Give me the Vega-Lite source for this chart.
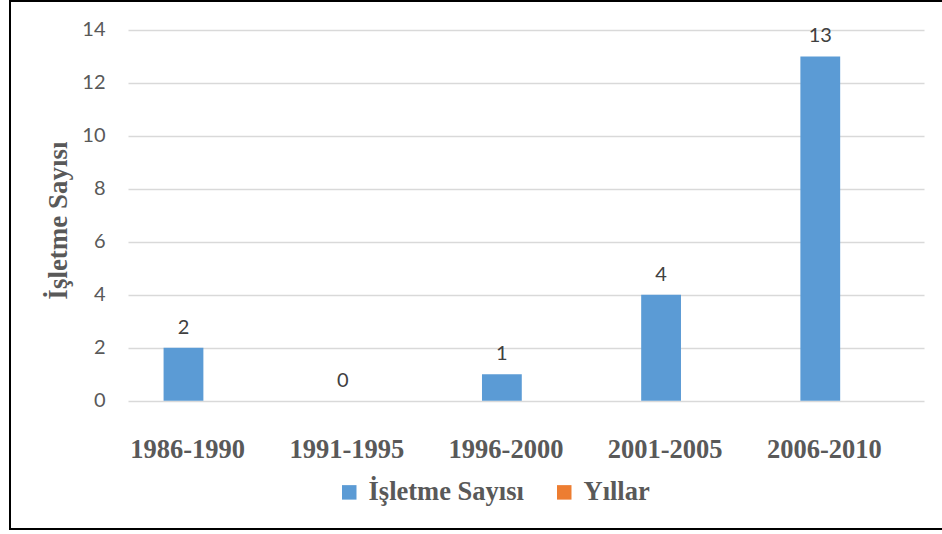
{
  "$schema": "https://vega.github.io/schema/vega-lite/v6.json",
  "width": 934,
  "height": 528,
  "autosize": {"type": "none"},
  "padding": {"left": 10, "top": 1, "right": -2, "bottom": 5},
  "background": "white",
  "config": {"view": {"stroke": "#000000", "strokeWidth": 2}},
  "data": {
    "values": [
      {"period": "1986-1990", "series": "İşletme Sayısı", "value": 2},
      {"period": "1991-1995", "series": "İşletme Sayısı", "value": 0},
      {"period": "1996-2000", "series": "İşletme Sayısı", "value": 1},
      {"period": "2001-2005", "series": "İşletme Sayısı", "value": 4},
      {"period": "2006-2010", "series": "İşletme Sayısı", "value": 13}
    ]
  },
  "encoding": {
    "x": {
      "field": "period",
      "type": "nominal",
      "sort": null,
      "scale": {"range": [118, 914], "paddingInner": 0, "paddingOuter": 0},
      "axis": {
        "title": null,
        "domain": false,
        "ticks": false,
        "tickSize": 0,
        "grid": false,
        "offset": -72,
        "labelPadding": 0,
        "labelBaseline": "alphabetic",
        "labelOffset": -20,
        "labelAngle": 0,
        "labelFont": "Liberation Serif",
        "labelFontWeight": "bold",
        "labelFontSize": 26.5,
        "labelColor": "#595959",
        "labelLimit": 300
      }
    },
    "xOffset": {
      "field": "series",
      "type": "nominal",
      "scale": {"domain": ["İşletme Sayısı", "Yıllar"], "paddingInner": 0, "paddingOuter": 1.211, "align": 0.447}
    },
    "y": {
      "field": "value",
      "type": "quantitative",
      "stack": null,
      "scale": {"domain": [-4.845, 15.095], "nice": false, "zero": false},
      "axis": {
        "values": [0, 2, 4, 6, 8, 10, 12, 14],
        "title": "İşletme Sayısı",
        "domain": false,
        "ticks": false,
        "tickSize": 0,
        "grid": true,
        "gridColor": "#d9d9d9",
        "gridWidth": 1.3,
        "offset": -95,
        "labelPadding": 0,
        "labelFont": "Lato",
        "labelFontSize": 20,
        "labelColor": "#595959",
        "titleFont": "Liberation Serif",
        "titleFontWeight": "bold",
        "titleFontSize": 27,
        "titleColor": "#595959",
        "titleX": -47,
        "titleY": 219,
        "titleAngle": 270,
        "titleAlign": "center",
        "titleBaseline": "middle"
      }
    }
  },
  "layer": [
    {
      "mark": {"type": "bar"},
      "encoding": {
        "color": {
          "field": "series",
          "type": "nominal",
          "scale": {"domain": ["İşletme Sayısı", "Yıllar"], "range": ["#5B9BD5", "#ED7D31"]},
          "legend": {
            "title": null,
            "orient": "none",
            "legendX": 326,
            "legendY": 478,
            "direction": "horizontal",
            "symbolType": "square",
            "symbolSize": 210,
            "symbolStrokeWidth": 0,
            "symbolOpacity": 1,
            "labelFont": "Liberation Serif",
            "labelFontWeight": "bold",
            "labelFontSize": 26.5,
            "labelColor": "#595959",
            "labelOffset": 6,
            "columnPadding": 27,
            "padding": 0,
            "labelLimit": 400
          }
        }
      }
    },
    {
      "mark": {"type": "text", "font": "Lato", "fontSize": 20, "color": "#404040", "baseline": "alphabetic", "dy": -14},
      "encoding": {"text": {"field": "value", "type": "quantitative"}}
    }
  ]
}
